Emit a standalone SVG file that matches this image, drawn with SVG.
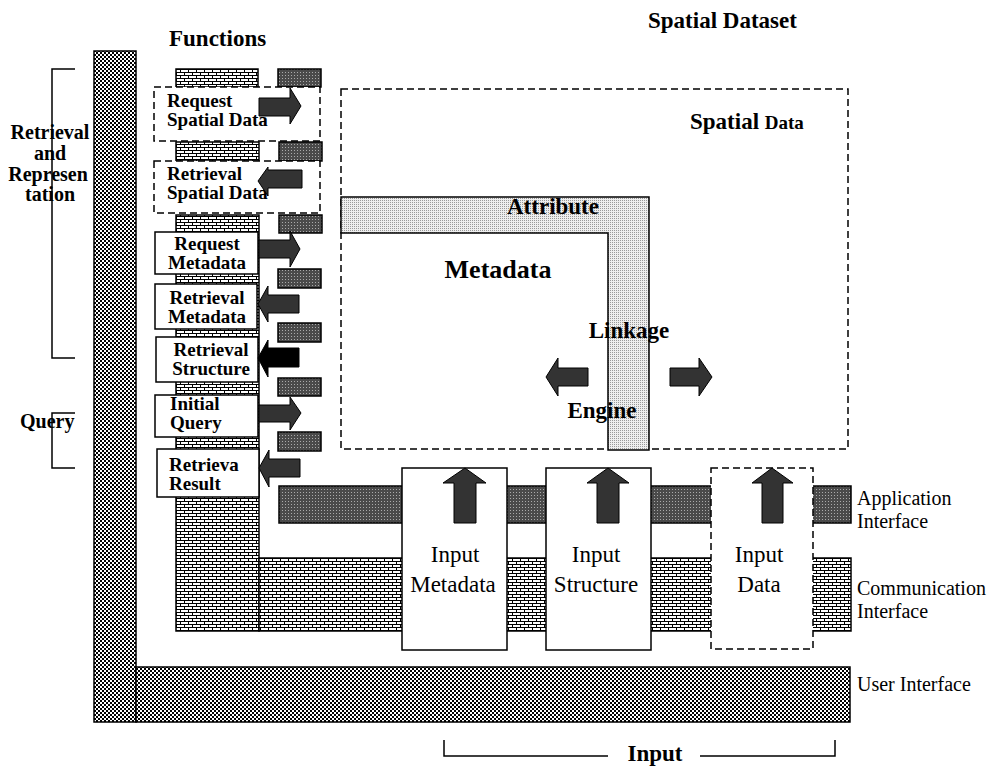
<svg xmlns="http://www.w3.org/2000/svg" width="987" height="766" viewBox="0 0 987 766">
<defs>
<pattern id="checker" width="4" height="4" patternUnits="userSpaceOnUse">
<rect width="4" height="4" fill="#fff"/>
<rect width="2" height="2" fill="#000"/>
<rect x="2" y="2" width="2" height="2" fill="#000"/>
</pattern>
<pattern id="darkdot" width="3" height="3" patternUnits="userSpaceOnUse">
<rect width="3" height="3" fill="#4a4a4a"/>
<rect width="1" height="1" fill="#aaa"/>
</pattern>
<pattern id="lightdot" width="2" height="2" patternUnits="userSpaceOnUse">
<rect width="2" height="2" fill="#eee"/>
<rect width="1" height="1" fill="#999"/>
</pattern>
<pattern id="brick" width="8" height="6" patternUnits="userSpaceOnUse">
<rect width="8" height="6" fill="#fff"/>
<path d="M0 0.5H8M0 3.5H8M0.5 0V3.5M4.5 3.5V6" stroke="#000" stroke-width="1" fill="none"/>
</pattern>
</defs>
<style>
.ui{fill:url(#checker);stroke:#000;stroke-width:1.5}
.app{fill:url(#darkdot);stroke:#000;stroke-width:1.5}
.com{fill:url(#brick);stroke:#000;stroke-width:1.5}
.attr{fill:url(#lightdot);stroke:#000;stroke-width:1.5}
.box{fill:#fff;stroke:#000;stroke-width:1.5}
.dbox{fill:#fff;stroke:#000;stroke-width:1.5;stroke-dasharray:7 4}
.arr{fill:#333;stroke:#000;stroke-width:1}
.blk{fill:#000;stroke:#000;stroke-width:1}
.b{font-family:"Liberation Serif","Times New Roman",serif;font-weight:bold;fill:#000}
.r{font-family:"Liberation Serif","Times New Roman",serif;fill:#000}
.fn{font-family:"Liberation Serif","Times New Roman",serif;font-weight:bold;fill:#000;font-size:19px}
.br{fill:none;stroke:#000;stroke-width:1.5}
</style>
<rect width="987" height="766" fill="#fff"/>

<g id="user-interface">
<rect class="ui" x="94" y="51" width="42" height="671"/>
<rect class="ui" x="136" y="667" width="714" height="55"/>
<text class="r" x="857" y="691" font-size="20">User Interface</text>
</g>

<g id="communication-interface">
<rect class="com" x="176" y="69" width="82" height="18"/>
<rect class="com" x="176" y="142" width="83" height="19"/>
<rect class="com" x="176" y="215" width="83" height="416"/>
<rect class="com" x="259" y="558" width="592" height="73"/>
<text class="r" x="857" y="595" font-size="20">Communication</text>
<text class="r" x="857" y="618" font-size="20">Interface</text>
</g>

<g id="application-interface">
<rect class="app" x="278" y="69" width="43" height="18"/>
<rect class="app" x="279" y="142" width="43" height="19"/>
<rect class="app" x="279" y="215" width="43" height="18"/>
<rect class="app" x="278" y="269" width="43" height="19"/>
<rect class="app" x="278" y="323" width="43" height="19"/>
<rect class="app" x="278" y="378" width="43" height="18"/>
<rect class="app" x="278" y="432" width="43" height="19"/>
<rect class="app" x="279" y="486" width="572" height="37"/>
<text class="r" x="857" y="505" font-size="20">Application</text>
<text class="r" x="857" y="528" font-size="20">Interface</text>
</g>

<g id="spatial-dataset">
<rect class="dbox" x="341" y="89" width="507" height="360" fill="none"/>
<text class="b" x="648" y="28" font-size="23">Spatial Dataset</text>
<text class="b" x="690" y="129" font-size="23">Spatial <tspan font-size="19">Data</tspan></text>
</g>

<g id="attribute-linkage">
<path class="attr" d="M341 197H649V450H608V233H341Z"/>
<text class="b" x="553" y="214" font-size="23" text-anchor="middle">Attribute</text>
<text class="b" x="498" y="278" font-size="26" text-anchor="middle">Metadata</text>
<text class="b" x="629" y="338" font-size="23" text-anchor="middle">Linkage</text>
<text class="b" x="602" y="418" font-size="23" text-anchor="middle">Engine</text>
</g>

<g id="f-request-spatial">
<rect class="dbox" x="154" y="87" width="166" height="54"/>
<text class="fn" x="167" y="107">Request</text>
<text class="fn" x="167" y="126">Spatial Data</text>
</g>
<g id="f-retrieval-spatial">
<rect class="dbox" x="154" y="161" width="166" height="52"/>
<text class="fn" x="167" y="180">Retrieval</text>
<text class="fn" x="167" y="199">Spatial Data</text>
</g>
<g id="f-request-metadata">
<rect class="box" x="155" y="232" width="103" height="42"/>
<text class="fn" x="207" y="250" text-anchor="middle">Request</text>
<text class="fn" x="207" y="269" text-anchor="middle">Metadata</text>
</g>
<g id="f-retrieval-metadata">
<rect class="box" x="155" y="284" width="102" height="45"/>
<text class="fn" x="207" y="304" text-anchor="middle">Retrieval</text>
<text class="fn" x="207" y="323" text-anchor="middle">Metadata</text>
</g>
<g id="f-retrieval-structure">
<rect class="box" x="156" y="337" width="102" height="45"/>
<text class="fn" x="211" y="356" text-anchor="middle">Retrieval</text>
<text class="fn" x="211" y="375" text-anchor="middle">Structure</text>
</g>
<g id="f-initial-query">
<rect class="box" x="155" y="395" width="103" height="42"/>
<text class="fn" x="170" y="410">Initial</text>
<text class="fn" x="170" y="429">Query</text>
</g>
<g id="f-retrieva-result">
<rect class="box" x="157" y="449" width="102" height="48"/>
<text class="fn" x="169" y="471">Retrieva</text>
<text class="fn" x="169" y="490">Result</text>
</g>

<g id="input-metadata">
<rect class="box" x="402" y="468" width="105" height="182"/>
<text class="r" x="455" y="562" font-size="23" text-anchor="middle">Input</text>
<text class="r" x="453" y="592" font-size="23" text-anchor="middle">Metadata</text>
</g>
<g id="input-structure">
<rect class="box" x="546" y="468" width="105" height="182"/>
<text class="r" x="596" y="562" font-size="23" text-anchor="middle">Input</text>
<text class="r" x="596" y="592" font-size="23" text-anchor="middle">Structure</text>
</g>
<g id="input-data">
<rect class="dbox" x="711" y="468" width="102" height="181"/>
<text class="r" x="759" y="562" font-size="23" text-anchor="middle">Input</text>
<text class="r" x="759" y="592" font-size="23" text-anchor="middle">Data</text>
</g>

<g id="connectors">
<path class="arr" d="M259 98H290V88L301 106L290 124V116H259Z"/>
<path class="arr" d="M258 181L268 167V170H302V188H268V196Z"/>
<path class="arr" d="M259 240H290V231L300 249L290 267V258H259Z"/>
<path class="arr" d="M258 304L268 286V295H299V313H268V322Z"/>
<path class="blk" d="M258 358L268 340V348H299V367H268V377Z"/>
<path class="arr" d="M259 405H290V397L301 413L290 430V422H259Z"/>
<path class="arr" d="M259 468L269 450V459H300V477H269V487Z"/>
<path class="arr" d="M546 377L558 358V368H588V386H558V396Z"/>
<path class="arr" d="M670 368H699V358L712 377L699 396V386H670Z"/>
<path class="arr" d="M454 523V483H443L465 468L486 483H476V523Z"/>
<path class="arr" d="M597 523V483H587L608 468L629 483H619V523Z"/>
<path class="arr" d="M762 523V483H752L772 468L793 483H783V523Z"/>
</g>

<g id="labels">
<text class="b" x="169" y="46" font-size="23">Functions</text>
<path class="br" d="M75 69H52V358H75"/>
<text class="b" x="50" y="139" font-size="20" text-anchor="middle">Retrieval</text>
<text class="b" x="50" y="160" font-size="20" text-anchor="middle">and</text>
<text class="b" x="48" y="181" font-size="20" text-anchor="middle">Represen</text>
<text class="b" x="50" y="201" font-size="20" text-anchor="middle">tation</text>
<path class="br" d="M75 413H52V468H75"/>
<text class="b" x="20" y="428" font-size="20">Query</text>
<path class="br" d="M444 740V756H608M700 756H835V740"/>
<text class="b" x="655" y="761" font-size="23" text-anchor="middle">Input</text>
</g>
</svg>
